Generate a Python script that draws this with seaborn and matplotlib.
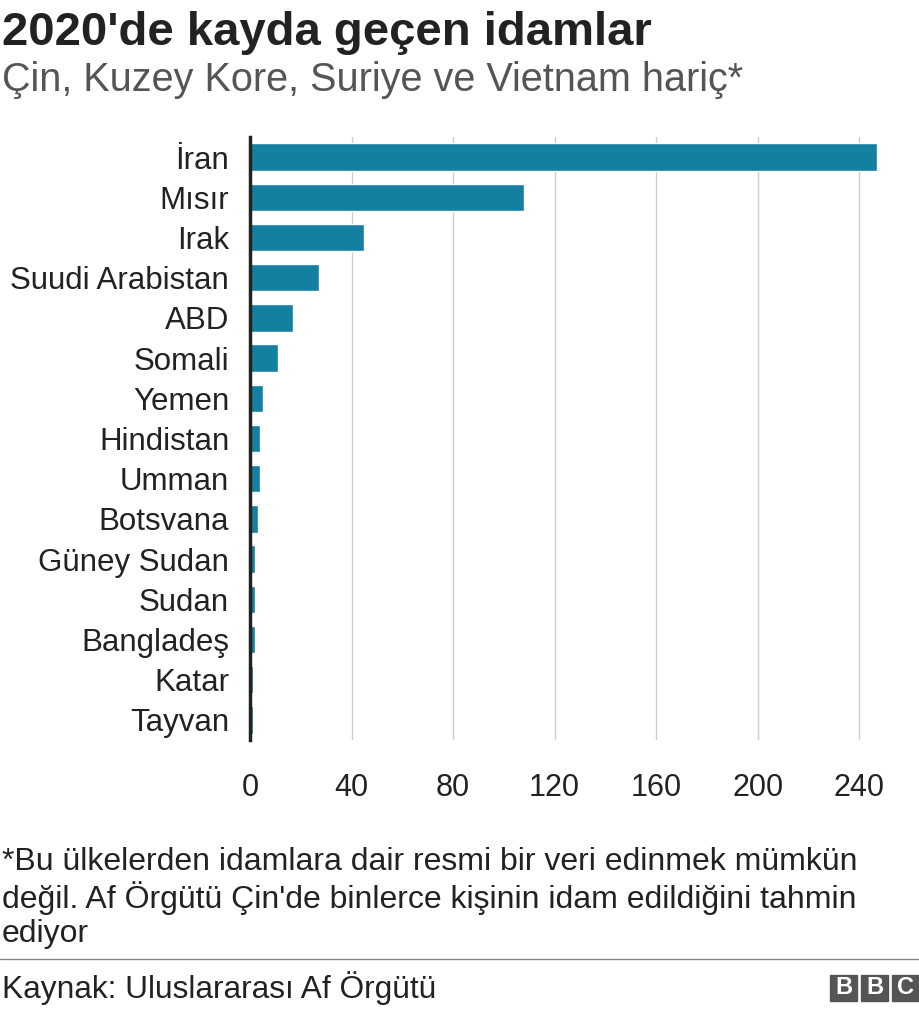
import matplotlib
matplotlib.use("Agg")
import matplotlib.pyplot as plt
import seaborn as sns
import pandas as pd

countries = ["İran", "Mısır", "Irak", "Suudi Arabistan", "ABD", "Somali", "Yemen",
             "Hindistan", "Umman", "Botsvana", "Güney Sudan", "Sudan", "Bangladeş",
             "Katar", "Tayvan"]
executions = [247, 108, 45, 27, 17, 11, 5, 4, 4, 3, 2, 2, 2, 1, 1]
xticks = [0, 40, 80, 120, 160, 200, 240]

df = pd.DataFrame({"country": countries, "n": executions})

sns.set_style("white")
plt.rcParams["font.family"] = ["Liberation Sans", "DejaVu Sans"]

fig = plt.figure(figsize=(9.2, 10.14), dpi=100)
ax = fig.add_axes([250 / 920, 1 - 740 / 1014, 660 / 920, (740 - 137) / 1014])

sns.barplot(data=df, y="country", x="n", color="#1380A1", saturation=1,
            width=0.68, ax=ax, zorder=3)
ax.set_xlim(0, 260)
ax.set_ylim(14.5, -0.5)
ax.set_xticks(xticks)
ax.set_xticklabels([str(t) for t in xticks], fontsize=22, color="#222222")
ax.tick_params(axis="x", length=0, pad=24)
ax.tick_params(axis="y", length=0, pad=15, labelsize=22.5, labelcolor="#222222")
ax.set_xlabel("")
ax.set_ylabel("")
ax.grid(axis="x", color="#cccccc", linewidth=1, zorder=0)
for s in ["top", "right", "bottom"]:
    ax.spines[s].set_visible(False)
ax.spines["left"].set_color("#222222")
ax.spines["left"].set_linewidth(2.5)
ax.spines["left"].set_zorder(4)

fig.text(2 / 920, 1 - 33 / 1014, "2020'de kayda geçen idamlar", fontsize=34,
         fontweight="bold", color="#222222", va="center")
fig.text(2 / 920, 1 - 80 / 1014, "Çin, Kuzey Kore, Suriye ve Vietnam hariç*",
         fontsize=28.5, color="#555555", va="center")
fig.text(2 / 920, 1 - 898 / 1014,
         "*Bu ülkelerden idamlara dair resmi bir veri edinmek mümkün\n"
         "değil. Af Örgütü Çin'de binlerce kişinin idam edildiğini tahmin\nediyor",
         fontsize=23, color="#222222", va="center", linespacing=1.18)
fig.add_artist(plt.Line2D([0, 1], [1 - 959 / 1014] * 2, color="#888888", linewidth=1))
fig.text(2 / 920, 1 - 988 / 1014, "Kaynak: Uluslararası Af Örgütü", fontsize=22.8,
         color="#222222", va="center")
for i, ch in enumerate("BBC"):
    x0 = 830 + i * 31
    fig.add_artist(plt.Rectangle((x0 / 920, 1 - 1001 / 1014), 27 / 920, 26 / 1014,
                                 color="#555555", transform=fig.transFigure))
    fig.text((x0 + 13.5) / 920, 1 - 988 / 1014, ch, fontsize=17, fontweight="bold",
             color="white", ha="center", va="center")

fig.savefig("out.png", dpi=100)
